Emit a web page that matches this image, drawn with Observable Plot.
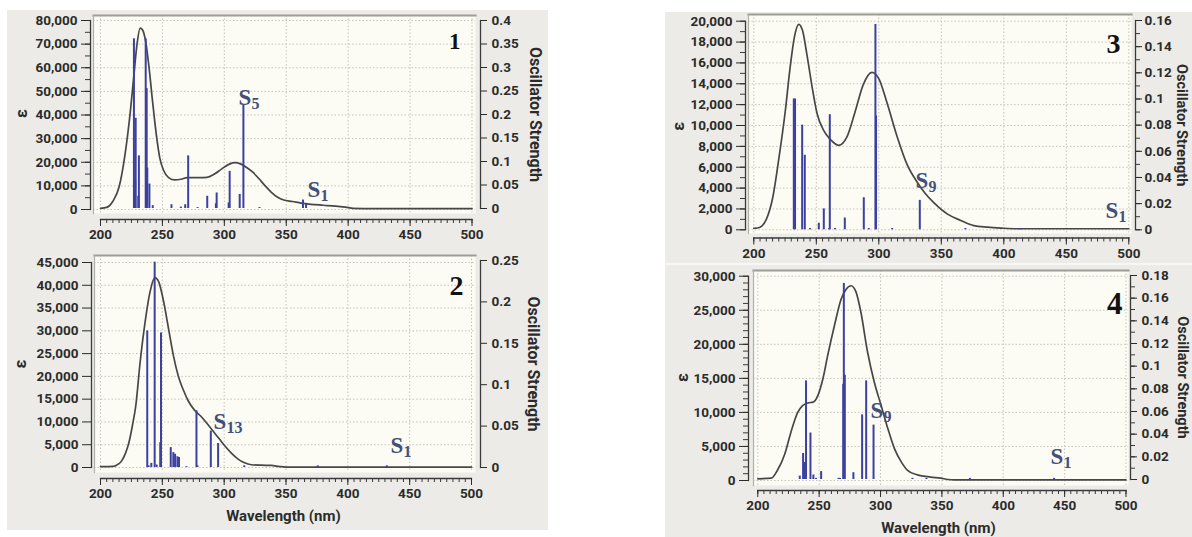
<!DOCTYPE html>
<html><head><meta charset="utf-8">
<script src="https://cdn.jsdelivr.net/npm/d3@7"></script>
<script src="https://cdn.jsdelivr.net/npm/@observablehq/plot@0.6"></script>
<style>
body{margin:0;background:#fff;}
#chart{position:relative;width:1192px;height:537px;overflow:hidden;background:#fff;font-family:Roboto,"Liberation Sans",sans-serif;}
.bg{position:absolute;background:#ecebe7;}
#chart svg{position:absolute;left:0;top:0;}
</style></head><body>
<div id="chart">
<div class="bg" style="left:7px;top:10px;width:541px;height:520px"></div>
<div class="bg" style="left:665px;top:12px;width:527px;height:525px"></div>
<div style="position:absolute;left:665px;top:263px;width:527px;height:2px;background:#f7f7f5"></div>
</div>
<script>
// ---------- data ----------
const xTicks = [200, 250, 300, 350, 400, 450, 500];

// Panel 1
const p1CurveNm  = [200,205,210,215,220,224,227,229.5,232,234,236.5,239,242,245,248,251,255,260,265,270,280,286,292,298,304,309,313,318,323,328,333,338,343,348,355,362,370,380,390,398,404,420,450,500];
const p1CurveEps = [500,900,3500,9500,24000,41000,57000,70000,76800,76000,71000,61000,46000,32000,21500,16500,13500,12500,12800,13500,13500,13600,15000,17200,19200,19800,19300,17800,15800,13000,10000,7300,5200,4000,3400,2700,2200,1800,1400,1000,500,400,400,400];
const p1StickNm = [227.0,228.0,228.4,230.5,231.0,236.5,237.3,237.8,239.5,242.2,257.3,264.9,268.4,270.8,278.4,286.2,293.2,293.8,303.5,304.3,312.4,315.4,328.4,363.5,366.0];
const p1StickF  = [0.361,0.061,0.192,0.026,0.112,0.361,0.255,0.086,0.052,0.006,0.008,0.003,0.008,0.112,0.002,0.026,0.010,0.033,0.012,0.079,0.030,0.221,0.002,0.018,0.009];

// Panel 2
const p2CurveNm  = [200,210,213,217,220,223,226,228.5,232,236,240,244,247,251,255,259,263,267,271,276,281,286,291,296,301,306,311,316,322,330,338,345,350,400,500];
const p2CurveEps = [200,250,500,1400,3000,5500,9500,13500,23000,31800,38500,41700,40800,36500,30500,24500,20000,17000,14600,12600,11300,9700,8000,6300,4600,3100,1900,1100,600,500,450,200,100,100,100];
const p2StickNm = [237.8,238.9,241.1,243.8,245.4,248.3,248.9,256.8,258.9,260.3,262.2,263.5,269.5,277.6,278.4,289.2,295.1,316.2,375.7,431.5];
const p2StickF  = [0.165,0.002,0.005,0.248,0.003,0.030,0.1625,0.024,0.018,0.016,0.013,0.012,0.001,0.0685,0.002,0.044,0.029,0.002,0.002,0.002];

// Panel 3
const p3CurveNm  = [200,205,210,215,220,225,229,232.5,236,239,242.5,246.5,250.5,256,261,268,274.5,281,287.5,294.5,300,306.5,314.5,322.5,330.5,337,344,355,365.5,376,387,398,410,500];
const p3CurveEps = [130,250,1000,3000,6800,11200,15500,18500,19700,19100,16800,13800,11200,9500,8700,8100,8900,11300,13900,15100,14500,12200,9000,6300,4600,3500,2600,1500,900,400,250,160,100,100];
const p3StickNm = [232.0,233.0,238.7,240.8,245.0,252.0,256.0,260.3,260.8,265.0,272.8,288.0,292.0,297.3,297.8,310.7,332.8,369.3,413.0];
const p3StickF  = [0.100,0.100,0.080,0.057,0.001,0.005,0.016,0.001,0.088,0.001,0.009,0.0245,0.001,0.157,0.087,0.001,0.0225,0.001,0.001];

// Panel 4
const p4CurveNm  = [200,211,216,222,227,232.5,236.5,241,245,249,253,257,262.5,268,272,276,280,284,289.5,295,300.5,306,311.5,317,322,330,341,349,355,360,500];
const p4CurveEps = [250,340,1500,3900,7100,10000,11000,11400,11500,12500,14900,18400,22800,26700,28100,28600,27700,24700,18800,14400,11000,7600,4600,2700,1500,830,500,340,150,100,100];
const p4StickNm = [234.2,236.9,238.0,239.3,242.9,245.3,247.5,251.6,265.8,267.0,269.6,270.1,270.9,277.9,285.0,288.3,294.3,326.0,337.4,372.8,441.4];
const p4StickF  = [0.003,0.023,0.015,0.087,0.041,0.004,0.001,0.007,0.001,0.001,0.084,0.173,0.092,0.006,0.057,0.087,0.048,0.001,0.001,0.001,0.001];

// State labels (anchor in nm / oscillator strength)
const p1Labels = [{nm: 311.4, f: 0.221, s: "S", sub: "5"}, {nm: 367.2, f: 0.0255, s: "S", sub: "1"}];
const p2Labels = [{nm: 291.4, f: 0.047, s: "S", sub: "13"}, {nm: 434.5, f: 0.017, s: "S", sub: "1"}];
const p3Labels = [{nm: 329.4, f: 0.0323, s: "S", sub: "9"}, {nm: 481.4, f: 0.0094, s: "S", sub: "1"}];
const p4Labels = [{nm: 291.8, f: 0.054, s: "S", sub: "9"}, {nm: 438.5, f: 0.014, s: "S", sub: "1"}];
const panelNames = ["1", "2", "3", "4"];

// ---------- layout (pixels) ----------
const panels = [
  {name: panelNames[0], curveNm: p1CurveNm, curveEps: p1CurveEps, stickNm: p1StickNm, stickF: p1StickF, labels: p1Labels,
   leftAxis: 90, creamLeft: 93, creamRight: 475, rightAxis: 480, creamTop: 15, creamBottom: 213, xAxisY: 219,
   p200: 100, p500: 471.5, eps0Y: 209, epsTopY: 20, epsMax: 80000, epsStep: 10000, epsMinor: 5000,
   f0Y: 208, fTopY: 20, fMax: 0.4, fStep: 0.05, fMinor: 0, fPad: 5,
   nameNm: 490.7, nameF: 0.34, nameSize: 23, epsDx: -69, epsDy: -4, oscDx: 55, oscSize: 16, xLabel: false},
  {name: panelNames[1], curveNm: p2CurveNm, curveEps: p2CurveEps, stickNm: p2StickNm, stickF: p2StickF, labels: p2Labels,
   leftAxis: 91, creamLeft: 94, creamRight: 475, rightAxis: 480, creamTop: 255, creamBottom: 472, xAxisY: 478,
   p200: 100, p500: 471, eps0Y: 467, epsTopY: 262, epsMax: 45000, epsStep: 5000, epsMinor: 0,
   f0Y: 467, fTopY: 260, fMax: 0.25, fStep: 0.05, fMinor: 0, fPad: 5,
   nameNm: 493.5, nameF: 0.208, nameSize: 28, epsDx: -71, epsDy: -3, oscDx: 53, oscSize: 16, xLabel: true},
  {name: panelNames[2], curveNm: p3CurveNm, curveEps: p3CurveEps, stickNm: p3StickNm, stickF: p3StickF, labels: p3Labels,
   leftAxis: 745, creamLeft: 748, creamRight: 1131, rightAxis: 1135, creamTop: 14, creamBottom: 233, xAxisY: 237.5,
   p200: 753.3, p500: 1128.3, eps0Y: 229.3, epsTopY: 20.7, epsMax: 20000, epsStep: 2000, epsMinor: 1000,
   f0Y: 229.3, fTopY: 20, fMax: 0.16, fStep: 0.02, fMinor: 0.01, fPad: 3,
   nameNm: 493.4, nameF: 0.135, nameSize: 28, epsDx: -67, epsDy: 0, oscDx: 46, oscSize: 14.5, xLabel: false},
  {name: panelNames[3], curveNm: p4CurveNm, curveEps: p4CurveEps, stickNm: p4StickNm, stickF: p4StickF, labels: p4Labels,
   leftAxis: 748, creamLeft: 753, creamRight: 1128, rightAxis: 1130, creamTop: 270, creamBottom: 485, xAxisY: 490,
   p200: 757.3, p500: 1125.5, eps0Y: 480, epsTopY: 275.7, epsMax: 30000, epsStep: 5000, epsMinor: 1000,
   f0Y: 479, fTopY: 275, fMax: 0.18, fStep: 0.02, fMinor: 0.01, fPad: 5,
   nameNm: 497.2, nameF: 0.146, nameSize: 31, epsDx: -66, epsDy: -3, oscDx: 52, oscSize: 14.5, xLabel: true}
];

const W = 1192, H = 537;
const cream = "#fcfcf5", gridColor = "#c4c4bb", axisColor = "#3a3a3a", textColor = "#2b2b2b";
const stickColor = "#3c40a0", curveColor = "#474747", labelColor = "#42507a";
const svgStyle = {background: "transparent", fontFamily: "Roboto, 'Liberation Sans', sans-serif", fontSize: "13px", fontWeight: "bold", overflow: "hidden"};
const steps = (max, step) => d3.range(0, Math.round(max / step) + 1).map(i => +(i * step).toFixed(4));
const blank = () => "";

const chart = document.getElementById("chart");

for (const c of panels) {
  const pxPerNm = (c.p500 - c.p200) / 300;
  const nmAt = px => 200 + (px - c.p200) / pxPerNm;
  const epsAt = py => (c.eps0Y - py) * c.epsMax / (c.eps0Y - c.epsTopY);
  const curve = c.curveNm.map((x, i) => ({nm: x, eps: c.curveEps[i]}));
  const sticks = c.stickNm.map((x, i) => ({nm: x, f: c.stickF[i]}));
  const epsMajor = steps(c.epsMax, c.epsStep);
  const epsMinor = c.epsMinor ? steps(c.epsMax, c.epsMinor) : [];
  const fMajor = steps(c.fMax, c.fStep);
  const fMinor = c.fMinor ? steps(c.fMax, c.fMinor) : [];
  const insL = c.creamLeft - c.leftAxis, insB = c.xAxisY - c.creamBottom;

  const epsMarks = [
    Plot.frame({fill: cream, stroke: "none", insetLeft: insL, insetBottom: insB}),
    Plot.gridX(xTicks, {stroke: gridColor, strokeOpacity: 1, strokeDasharray: "1.5,2", insetBottom: insB}),
    Plot.gridY(epsMajor, {stroke: gridColor, strokeOpacity: 1, strokeDasharray: "1.5,2", insetLeft: insL}),
    Plot.frame({anchor: "top", stroke: "#9d9d98", strokeWidth: 2.2, insetLeft: insL}),
    Plot.frame({anchor: "left", stroke: "#b0b0aa", strokeWidth: 1.2, insetLeft: insL, insetBottom: insB}),
    Plot.line(curve, {x: "nm", y: "eps", stroke: curveColor, strokeWidth: 1.7, curve: "monotone-x"}),
    Plot.frame({anchor: "left", stroke: axisColor, strokeWidth: 1.3, insetTop: c.epsTopY - c.creamTop, insetBottom: c.xAxisY - c.eps0Y}),
    Plot.axisY(epsMinor, {tickSize: 5, tickFormat: blank, color: axisColor, label: null}),
    Plot.axisY(epsMajor, {tickSize: 9, tickPadding: 4, tickFormat: d3.format(","), color: textColor, fontSize: 13.5, fontWeight: "bold", label: null}),
    Plot.frame({anchor: "bottom", stroke: axisColor, strokeWidth: 1.3, insetLeft: c.p200 - c.leftAxis, insetRight: c.creamRight - c.p500}),
    Plot.axisX(d3.range(200, 501, 5), {tickSize: 4, tickFormat: blank, color: axisColor, label: null}),
    Plot.axisX(xTicks, {tickSize: 7, tickPadding: 3, tickFormat: d3.format("d"), color: textColor, fontSize: 13.5, fontWeight: "bold", label: null}),
    Plot.text(["ε"], {frameAnchor: "left", dx: c.epsDx, dy: c.epsDy, rotate: -90, textAnchor: "middle", lineAnchor: "middle", fontSize: 16, fontWeight: "bold", fill: textColor})
  ];
  if (c.xLabel) epsMarks.push(Plot.text(["Wavelength (nm)"], {frameAnchor: "bottom", dy: 38, textAnchor: "middle", lineAnchor: "middle", fontSize: 15, fontWeight: "bold", fill: textColor}));

  const epsPlot = Plot.plot({
    width: W, height: H, style: svgStyle,
    marginLeft: c.leftAxis, marginRight: W - c.creamRight, marginTop: c.creamTop, marginBottom: H - c.xAxisY,
    x: {domain: [nmAt(c.leftAxis), nmAt(c.creamRight)], axis: null},
    y: {domain: [epsAt(c.xAxisY), epsAt(c.creamTop)], axis: null},
    marks: epsMarks
  });

  const fPlot = Plot.plot({
    width: W, height: H, style: svgStyle,
    marginLeft: c.leftAxis, marginRight: W - c.rightAxis, marginTop: c.fTopY, marginBottom: H - c.f0Y,
    x: {domain: [nmAt(c.leftAxis), nmAt(c.rightAxis)], axis: null},
    y: {domain: [0, c.fMax], axis: null},
    marks: [
      Plot.ruleX(sticks, {x: "nm", y1: 0, y2: "f", stroke: stickColor, strokeWidth: 2}),
      Plot.frame({anchor: "right", stroke: axisColor, strokeWidth: 1.3}),
      Plot.axisY(fMinor, {anchor: "right", tickSize: 4, tickFormat: blank, color: axisColor, label: null}),
      Plot.axisY(fMajor, {anchor: "right", tickSize: 6, tickPadding: c.fPad, tickFormat: d => String(d), color: textColor, fontSize: 13.5, fontWeight: "bold", label: null}),
      Plot.text(["Oscillator Strength"], {frameAnchor: "right", dx: c.oscDx, rotate: 90, textAnchor: "middle", lineAnchor: "middle", fontSize: c.oscSize, fontWeight: "bold", fill: textColor}),
      Plot.text(c.labels, {x: "nm", y: "f", text: "s", textAnchor: "start", lineAnchor: "bottom", fontFamily: "Liberation Serif, serif", fontSize: 23, fontWeight: "bold", fill: labelColor}),
      Plot.text(c.labels, {x: "nm", y: "f", text: "sub", dx: 13, dy: 4, textAnchor: "start", lineAnchor: "bottom", fontFamily: "Liberation Serif, serif", fontSize: 16, fontWeight: "bold", fill: labelColor}),
      Plot.text([c.name], {x: () => c.nameNm, y: () => c.nameF, textAnchor: "end", lineAnchor: "bottom", fontFamily: "Liberation Serif, serif", fontSize: c.nameSize, fontWeight: "bold", fill: "#111"})
    ]
  });

  chart.appendChild(epsPlot);
  chart.appendChild(fPlot);
}
</script>
</body></html>
